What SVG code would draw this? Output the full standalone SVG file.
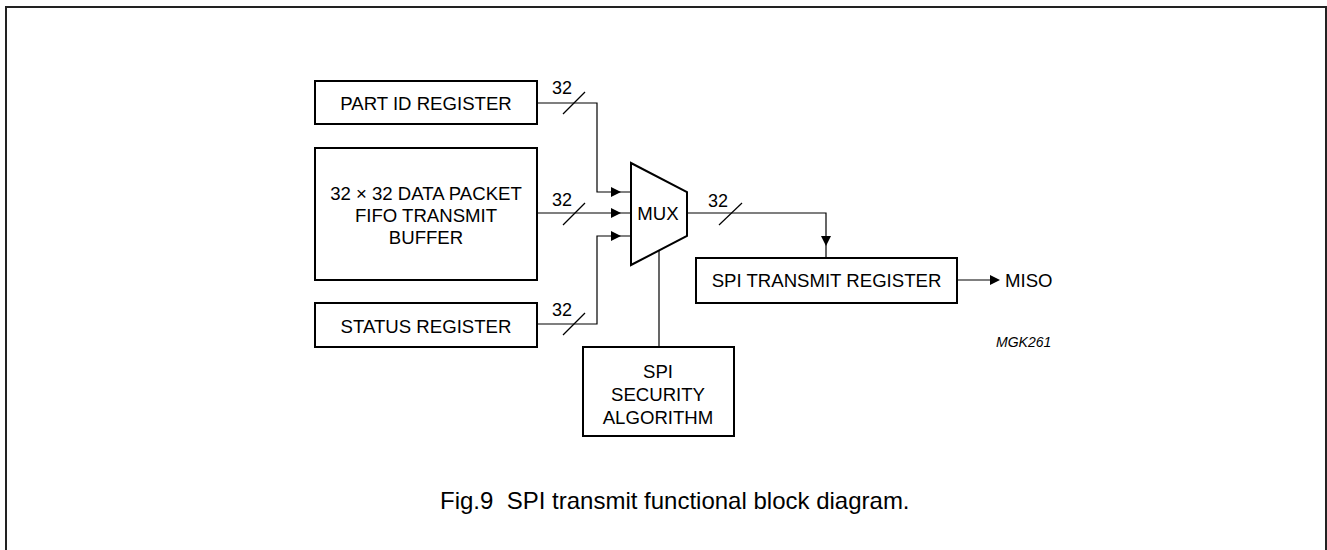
<svg xmlns="http://www.w3.org/2000/svg" xmlns:xlink="http://www.w3.org/1999/xlink" width="1327" height="550" viewBox="0 0 1327 550">
<style>
.box{fill:#fff;stroke:#000;stroke-width:2}
.wire{fill:none;stroke:#000;stroke-width:1.2}
.t{font-family:"Liberation Sans",Arial,sans-serif;font-size:18.6px;fill:#000;text-anchor:middle}
.n{font-family:"Liberation Sans",Arial,sans-serif;font-size:18px;fill:#000;text-anchor:middle}
.cap{font-family:"Liberation Sans",Arial,sans-serif;font-size:24px;fill:#000}
.id{font-family:"Liberation Sans",Arial,sans-serif;font-size:14px;font-style:italic;fill:#000}
</style>
<defs>
<polygon id="ar" points="0,0 -10,-5 -10,5" fill="#000"/>
<polygon id="ad" points="0,0 -5,-10 5,-10" fill="#000"/>
</defs>
<rect x="0" y="0" width="1327" height="550" fill="#fff"/>
<rect x="6" y="7" width="1320" height="560" fill="none" stroke="#222" stroke-width="2"/>

<g id="connectors">
<polyline class="wire" points="537,103 597,103 597,192 631,192"/>
<line class="wire" x1="537" y1="213" x2="631" y2="213"/>
<polyline class="wire" points="537,324 597,324 597,236 631,236"/>
<polyline class="wire" points="687,213 826,213 826,258"/>
<line class="wire" x1="659" y1="251" x2="659" y2="347"/>
<line class="wire" x1="957" y1="280" x2="998" y2="280"/>
<use xlink:href="#ar" x="621" y="192"/>
<use xlink:href="#ar" x="621" y="213"/>
<use xlink:href="#ar" x="621" y="236"/>
<use xlink:href="#ad" x="826" y="246"/>
<use xlink:href="#ar" x="1000" y="280"/>
<line class="wire" x1="563" y1="114" x2="585" y2="92"/>
<line class="wire" x1="563" y1="225" x2="585" y2="203"/>
<line class="wire" x1="563" y1="335" x2="585" y2="313"/>
<line class="wire" x1="719" y1="225" x2="742" y2="203"/>
<text class="n" x="562" y="94">32</text>
<text class="n" x="562" y="206">32</text>
<text class="n" x="562" y="316">32</text>
<text class="n" x="718" y="207">32</text>
</g>

<g id="partid">
<rect class="box" x="315" y="81" width="222" height="43"/>
<text class="t" x="426" y="109.5">PART ID REGISTER</text>
</g>
<g id="fifo">
<rect class="box" x="315" y="148" width="222" height="132"/>
<text class="t" x="426" y="199.5">32 × 32 DATA PACKET</text>
<text class="t" x="426" y="221.5">FIFO TRANSMIT</text>
<text class="t" x="426" y="243.5">BUFFER</text>
</g>
<g id="status">
<rect class="box" x="315" y="303" width="222" height="44"/>
<text class="t" x="426" y="332.5">STATUS REGISTER</text>
</g>
<g id="mux">
<polygon class="box" points="631,163 687,192 687,236 631,265"/>
<text class="t" x="658" y="220">MUX</text>
</g>
<g id="security">
<rect class="box" x="583" y="347" width="151" height="89"/>
<text class="t" x="658" y="378">SPI</text>
<text class="t" x="658" y="401">SECURITY</text>
<text class="t" x="658" y="424">ALGORITHM</text>
</g>
<g id="txreg">
<rect class="box" x="696" y="258" width="261" height="45"/>
<text class="t" x="826.5" y="287">SPI TRANSMIT REGISTER</text>
</g>
<g id="miso">
<text class="t" x="1005" y="287" style="text-anchor:start">MISO</text>
</g>
<text class="id" x="996" y="347">MGK261</text>
<text class="cap" x="440" y="509" xml:space="preserve">Fig.9  SPI transmit functional block diagram.</text>
</svg>
